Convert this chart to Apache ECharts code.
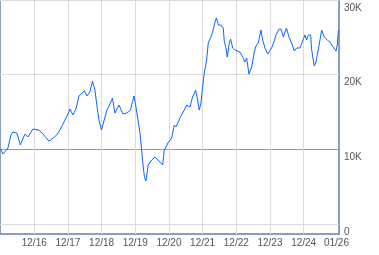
<!DOCTYPE html>
<html>
<head>
<meta charset="utf-8">
<script src="https://cdn.jsdelivr.net/npm/echarts@6/dist/echarts.min.js"></script>
<style>html,body{margin:0;padding:0;background:#fff}#c{width:379px;height:255px}</style>
</head>
<body>
<div id="c"></div>
<script>
// months since Dec 2015
var months = [0,0.85,1.56,2.63,3.7,4.41,5.83,7.08,8.69,9.75,11.54,13.68,15.1,17.24,18.31,19.98,21.16,22.58,24.37,24.72,25.79,26.86,27.93,29.0,29.89,30.78,31.85,32.74,33.63,34.45,35.06,35.95,36.84,37.91,38.98,39.87,40.76,42.19,43.61,45.04,46.28,47.53,48.14,48.96,49.67,50.27,50.85,51.27,51.81,52.63,53.84,55.0,56.8,57.76,58.33,59.65,60.97,61.89,62.5,63.92,65.46,66.31,67.49,68.31,69.52,70.23,70.8,71.41,71.87,72.58,73.44,74.01,74.97,75.79,76.4,76.93,77.57,78.53,79.36,79.71,80.32,80.78,81.49,81.99,82.71,83.52,85.31,86.48,87.09,87.7,88.51,89.48,90.4,91.01,91.83,92.79,93.4,94.22,95.18,95.75,96.6,97.42,98.14,99.2,99.92,100.74,101.88,102.77,103.73,104.66,105.51,106.69,107.51,108.47,109.08,109.65,110.5,110.86,111.43,111.79,112.39,112.99,113.82,114.42,115.35,116.42,117.38,118.56,119.52,119.98,120.41];
var values = [10040,9370,9370,10180,11920,12320,12180,10580,12050,11650,12720,12590,12050,11110,11380,11920,12590,13660,15000,15400,14600,15400,17140,17540,17810,17140,17670,19150,17940,15530,13930,12590,13790,15260,16070,16870,14860,15930,14730,14860,15260,17140,15930,13930,12180,9910,7630,6290,5760,7900,8570,8970,8300,7900,9910,10850,11520,13260,12990,14190,15260,15930,15670,16870,17940,16600,15260,16200,17940,20220,21960,24240,25040,25980,27050,27580,26650,26650,26240,24500,23570,22360,24240,24770,23570,23300,23030,22230,21690,22230,20090,21020,23030,23830,24240,25980,24640,23570,22760,22500,23570,24370,25310,26110,26110,25040,26240,25040,24240,23170,23570,23570,24370,25310,24640,25310,25310,23300,21960,21160,21690,22900,24640,25980,25040,24640,24370,23700,23170,23970,25980];
var xTickMonths = [12,24,36,48,60,72,84,96,108];
var xTickLabels = ['12/16','12/17','12/18','12/19','12/20','12/21','12/22','12/23','12/24'];
var endMonth = 119.7;
var endLabel = '01/26';
var yTicks = [0,10000,20000,30000];
var yTickLabels = ['0','10K','20K','30K'];

var data = months.map(function(m,i){return [m, values[i]];});
var labelMonths = xTickMonths.concat([endMonth]);
var labelTexts = xTickLabels.concat([endLabel]);

var chart = echarts.init(document.getElementById('c'));
chart.setOption({
  animation: false,
  grid: {left: 0, top: 0, right: 40, bottom: 21, show: true, borderColor: '#8a9fbb', borderWidth: 2, backgroundColor: 'transparent'},
  xAxis: {
    type: 'value', min: -0.2, max: 120.6,
    axisLine: {show: false},
    axisTick: {show: false, customValues: xTickMonths},
    splitLine: {show: true, lineStyle: {color: '#dcdcdc', width: 1}},
    axisLabel: {
      customValues: labelMonths,
      margin: 4,
      color: '#555', fontFamily: 'Liberation Sans, Arial', fontSize: 10,
      formatter: function(v){ var i = labelMonths.indexOf(v); return i >= 0 ? labelTexts[i] : ''; }
    }
  },
  yAxis: {
    type: 'value', position: 'right', min: -1340, max: 30000,
    axisLine: {show: false},
    axisTick: {show: false, customValues: yTicks},
    splitLine: {show: true, lineStyle: {color: ['#dcdcdc','#999999','#dcdcdc','#dcdcdc'], width: 1}},
    axisLabel: {
      customValues: yTicks,
      margin: 5, verticalAlign: 'top', padding: [3,0,0,0],
      color: '#555', fontFamily: 'Liberation Sans, Arial', fontSize: 10,
      formatter: function(v){ var i = yTicks.indexOf(v); return i >= 0 ? yTickLabels[i] : ''; }
    }
  },
  series: [{
    type: 'line', data: data, showSymbol: false, symbol: 'none',
    lineStyle: {color: '#0a66ff', width: 1}
  }]
});
</script>
</body>
</html>
